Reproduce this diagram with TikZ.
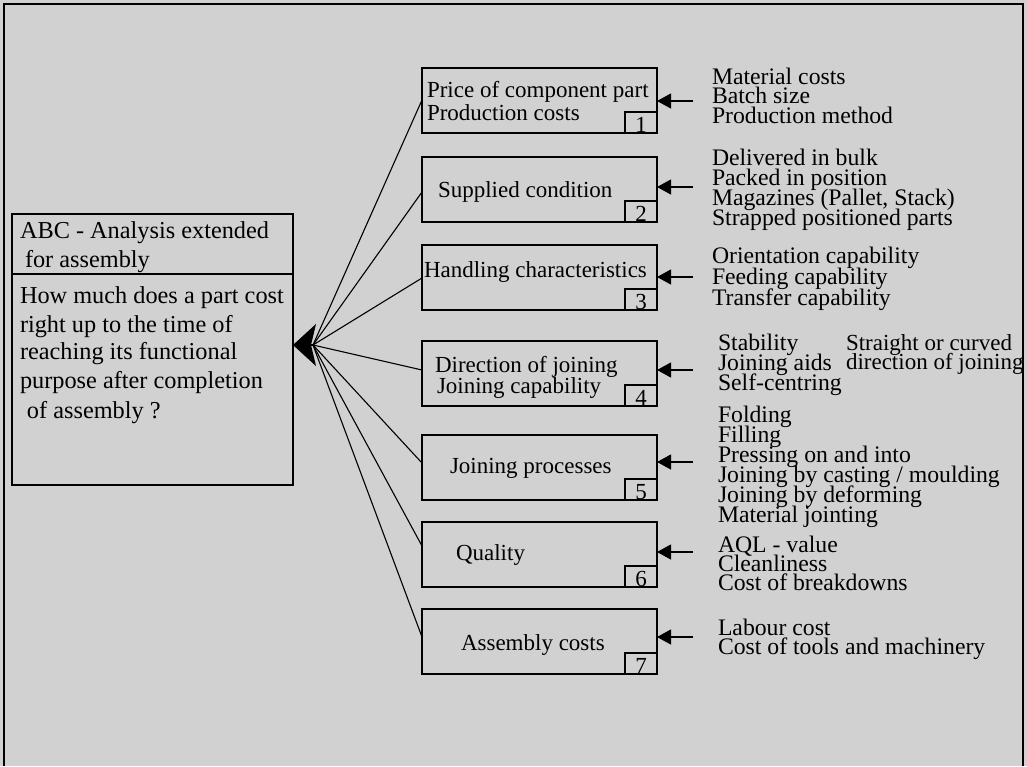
\documentclass[tikz,border=0pt]{standalone}
\usepackage{fontspec}
\setmainfont{Liberation Serif}
\usetikzlibrary{arrows.meta}
\begin{document}
\begin{tikzpicture}[x=1pt,y=-1pt,
  every node/.style={inner sep=0pt, outer sep=0pt},
  txt/.style={font=\fontsize{23}{20}\selectfont, anchor=base west},
  item/.style={font=\fontsize{23.7}{20}\selectfont, anchor=base west},
  qtxt/.style={font=\fontsize{24.3}{29}\selectfont, anchor=base west},
  frame/.style={draw, line width=1.1pt, anchor=north west, minimum width=281pt},
  stagebox/.style={draw, line width=1.1pt, minimum width=235pt, minimum height=65pt, anchor=north west},
  numbox/.style={draw, line width=1.1pt, minimum width=32pt, minimum height=21pt, anchor=south east},
  digit/.style={font=\fontsize{23}{20}\selectfont, anchor=base},
  feed/.style={line width=1.1pt, -{Triangle[length=14pt,width=15pt]}},
  spoke/.style={line width=1.1pt},
  hubtip/.style={line width=1.1pt, -{Stealth[length=23pt,width=42pt,inset=5pt]}}
]
\useasboundingbox (0,0) rectangle (1027,766);
% paper and outer border
\fill[black!18] (0,0) rectangle (1027,766);
\draw[line width=2.5pt] (4,766) -- (4,4) -- (1023,4) -- (1023,766);

% question box on the left
\node[frame, minimum height=60pt] (head) at (12,214) {};
\node[frame, minimum height=211pt] (body) at (12,274) {};
\node[qtxt] (h1) at (20,238) {ABC - Analysis extended};
\node[qtxt] (h2) at (25,267) {for assembly};
\node[qtxt] (q1) at (20,303) {How much does a part cost};
\node[qtxt] (q2) at (20,332) {right up to the time of};
\node[qtxt] (q3) at (20,359) {reaching its functional};
\node[qtxt] (q4) at (20,388) {purpose after completion};
\node[qtxt] (q5) at (27,418) {of assembly ?};

% hub of the fan of spokes
\coordinate (hub) at (313,345);

% the seven factor boxes with their numbers, spokes and feed arrows
\foreach \i/\top/\sy/\fy in {1/68/100/101, 2/157/192/187, 3/245/278/277,
    4/341/370/370, 5/435/463/462, 6/522/546/552, 7/609/637/637} {
  \node[stagebox] (b\i) at (422,\top) {};
  \node[numbox] (n\i) at (b\i.south east) {};
  \node[digit] (d\i) at ([yshift=1pt]n\i.south) {\i};
  \draw[spoke] (b\i.west |- 0,\sy) -- (hub);
  \coordinate (f\i) at (693,\fy);
  \draw[feed] (f\i) -- (b\i.east |- f\i);
}
\draw[hubtip] (hub) -- (body.east |- hub);

% box captions
\node[txt] (t1a) at (427,97) {Price of component part};
\node[txt] (t1b) at (427,120) {Production costs};
\node[txt] (t2) at (438,197) {Supplied condition};
\node[txt] (t3) at (424,277) {Handling characteristics};
\node[txt] (t4a) at (435,372) {Direction of joining};
\node[txt] (t4b) at (437,393) {Joining capability};
\node[txt] (t5) at (450,473) {Joining processes};
\node[txt] (t6) at (456,560) {Quality};
\node[txt] (t7) at (461,650) {Assembly costs};

% influencing items
\foreach \t [count=\k] in {Material costs, Batch size, Production method}
  \node[item] (ga\k) at (712,{84+19.5*(\k-1)}) {\t};
\foreach \t [count=\k] in {Delivered in bulk, Packed in position,
    {Magazines (Pallet, Stack)}, Strapped positioned parts}
  \node[item] (gb\k) at (712,{165+20*(\k-1)}) {\t};
\foreach \t [count=\k] in {Orientation capability, Feeding capability, Transfer capability}
  \node[item] (gc\k) at (712,{263+21*(\k-1)}) {\t};
\foreach \t [count=\k] in {Stability, Joining aids, Self-centring}
  \node[item] (gd\k) at (718,{350+20*(\k-1)}) {\t};
\node[txt] (ge1) at (846,350) {Straight or curved};
\node[txt] (ge2) at (846,369) {direction of joining};
\foreach \t [count=\k] in {Folding, Filling, Pressing on and into,
    Joining by casting / moulding, Joining by deforming, Material jointing}
  \node[item] (gf\k) at (718,{422+20*(\k-1)}) {\t};
\foreach \t [count=\k] in {AQL - value, Cleanliness, Cost of breakdowns}
  \node[item] (gg\k) at (718,{552+19*(\k-1)}) {\t};
\foreach \t [count=\k] in {Labour cost, Cost of tools and machinery}
  \node[item] (gh\k) at (718,{635+19*(\k-1)}) {\t};
\end{tikzpicture}
\end{document}
